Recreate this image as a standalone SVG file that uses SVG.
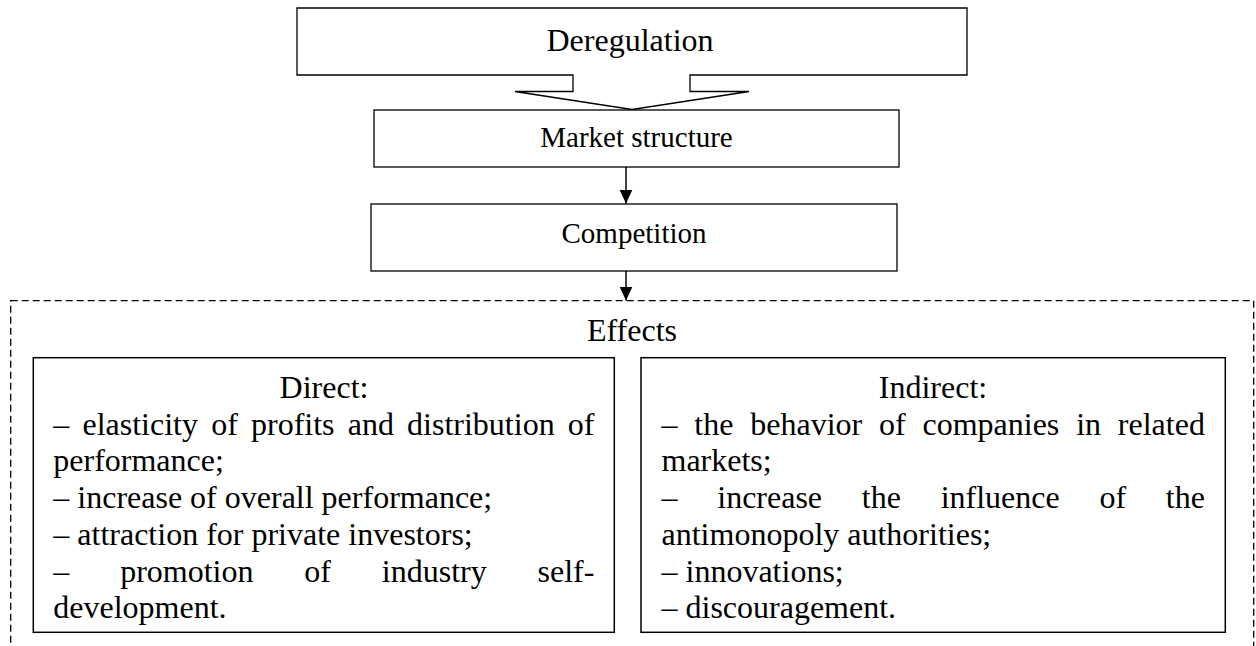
<svg xmlns="http://www.w3.org/2000/svg" width="1256" height="646" viewBox="0 0 1256 646">
<style>
  .box { fill: #fff; stroke: #000; stroke-width: 1.3; }
  .box2 { fill: #fff; stroke: #000; stroke-width: 1.5; }
  .dash { fill: none; stroke: #000; stroke-width: 1.3; stroke-dasharray: 7 4; }
  .conn { stroke: #000; stroke-width: 1.5; fill: none; }
  text { font-family: "Liberation Serif", "Times New Roman", serif; fill: #000; }
  .big { font-size: 32px; }
  .mid { font-size: 29px; }
  .c { text-anchor: middle; }
</style>
<defs>
  <marker id="arr" markerUnits="userSpaceOnUse" markerWidth="14" markerHeight="15" refX="15" refY="7" orient="auto" viewBox="0 0 15 14">
    <path d="M0,0 L15,7 L0,14 Z" fill="#000"/>
  </marker>
</defs>
<rect width="1256" height="646" fill="#fff"/>

<g id="effects">
  <rect class="dash" x="10.7" y="300.7" width="1243" height="380"/>
  <text class="big c" x="632" y="341">Effects</text>
</g>

<g id="deregulation">
  <path class="box" d="M297,8 H967 V75 H690 V91.5 H749 L632,109.5 L515,91.5 H573 V75 H297 Z"/>
  <text class="big c" x="630" y="51">Deregulation</text>
</g>

<g id="market-structure">
  <rect class="box" x="374" y="110" width="525" height="57"/>
  <text class="mid c" x="636.5" y="147">Market structure</text>
</g>

<g id="competition">
  <rect class="box" x="371" y="204" width="526" height="67"/>
  <text class="mid c" x="634" y="243">Competition</text>
</g>

<g id="direct">
  <rect class="box2" x="33.3" y="357.7" width="581" height="274.6"/>
  <text class="big c" x="324" y="398">Direct:</text>
  <text class="big" x="53.3" y="434.7" word-spacing="5.17">– elasticity of profits and distribution of</text>
  <text class="big" x="53.3" y="471.4">performance;</text>
  <text class="big" x="53.3" y="508.1">– increase of overall performance;</text>
  <text class="big" x="53.3" y="544.8">– attraction for private investors;</text>
  <text class="big" x="53.3" y="581.5" word-spacing="42.85">– promotion of industry self-</text>
  <text class="big" x="53.3" y="618.2">development.</text>
</g>

<g id="indirect">
  <rect class="box2" x="641" y="357.7" width="584.3" height="274.6"/>
  <text class="big c" x="933" y="398">Indirect:</text>
  <text class="big" x="661.5" y="434.7" word-spacing="8.82">– the behavior of companies in related</text>
  <text class="big" x="661.5" y="471.4">markets;</text>
  <text class="big" x="661.5" y="508.1" word-spacing="31.74">– increase the influence of the</text>
  <text class="big" x="661.5" y="544.8">antimonopoly authorities;</text>
  <text class="big" x="661.5" y="581.5">– innovations;</text>
  <text class="big" x="661.5" y="618.2">– discouragement.</text>
</g>

<g id="connectors">
  <line class="conn" x1="626" y1="167" x2="626" y2="203.5" marker-end="url(#arr)"/>
  <line class="conn" x1="626" y1="271" x2="626" y2="300.5" marker-end="url(#arr)"/>
</g>
</svg>
